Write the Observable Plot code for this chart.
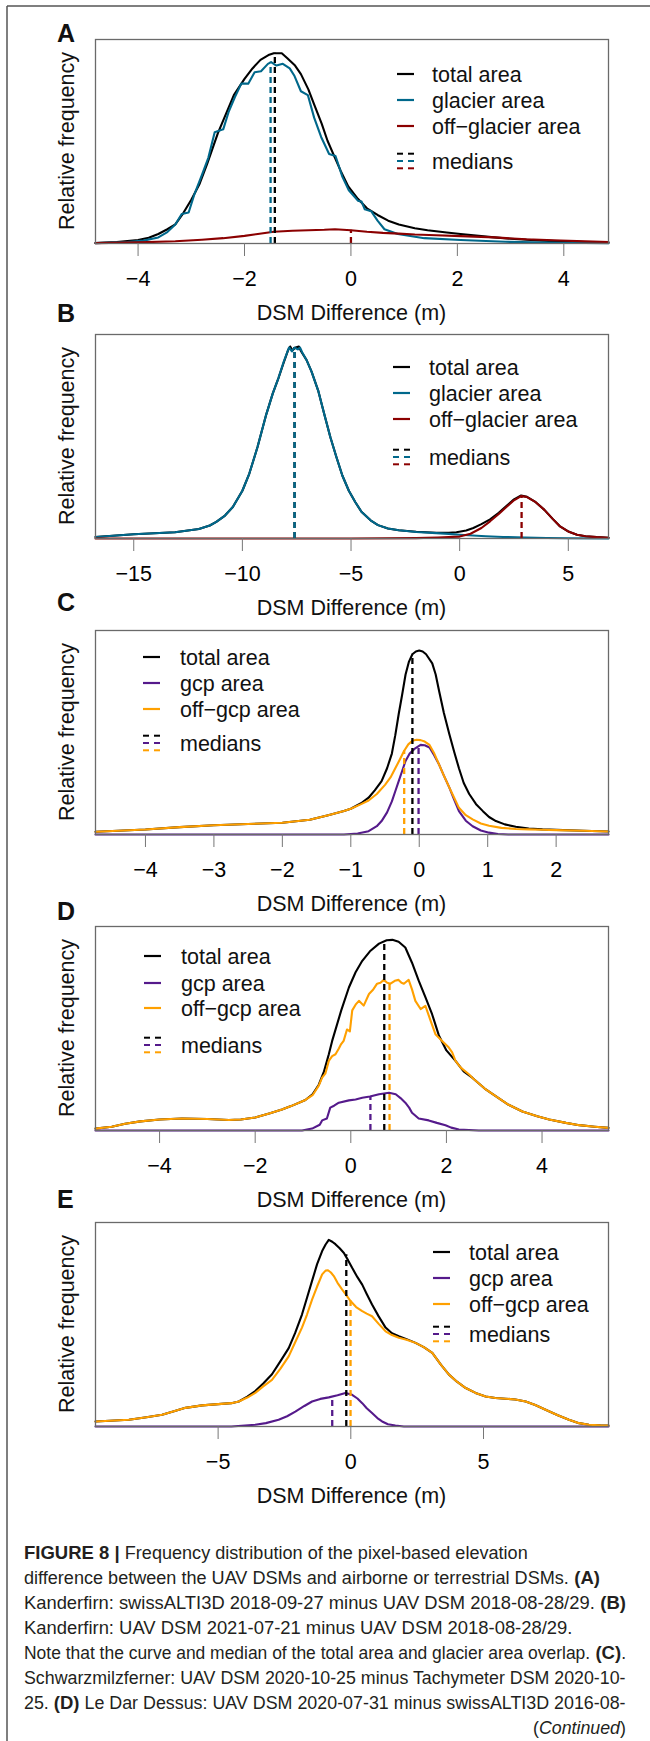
<!DOCTYPE html>
<html><head><meta charset="utf-8">
<script src="https://cdn.jsdelivr.net/npm/d3@7"></script>
<script src="https://cdn.jsdelivr.net/npm/@observablehq/plot@0.6"></script>
<style>
html,body{margin:0;padding:0;background:#fff;}
#page{position:relative;width:650px;height:1741px;overflow:hidden;background:#fff;font-family:"Liberation Sans",Arial,Helvetica,sans-serif;}
#page svg.plotsvg{position:absolute;left:0;}
#overlay{position:absolute;left:0;top:0;z-index:3;pointer-events:none;}
#overlay text.cap{white-space:pre;}
</style></head>
<body><div id="page"></div>
<script>
// ---------------- DATA ----------------
const COLORS = {total:"#000000", glacier:"#00688B", offGlacier:"#8B0000", gcp:"#551A8B", offGcp:"#FFA000"};
const LEGEND_AB = ["total area","glacier area","off\u2212glacier area","medians"];
const LEGEND_CDE = ["total area","gcp area","off\u2212gcp area","medians"];

// Panel A
const A_ticks = [-4,-2,0,2,4];
const A_total = [[-4.8,0.003],[-4.4,0.008],[-4.0,0.018],[-3.8,0.03],[-3.62,0.05],[-3.45,0.075],[-3.3,0.1],[-3.15,0.16],[-3.0,0.23],[-2.85,0.31],[-2.7,0.42],[-2.5,0.58],[-2.35,0.68],[-2.2,0.78],[-2.0,0.865],[-1.85,0.92],[-1.7,0.965],[-1.55,0.99],[-1.45,1.0],[-1.3,1.0],[-1.2,0.975],[-1.05,0.935],[-0.94,0.89],[-0.8,0.81],[-0.69,0.73],[-0.55,0.63],[-0.44,0.54],[-0.3,0.45],[-0.19,0.38],[-0.05,0.3],[0.13,0.235],[0.3,0.185],[0.5,0.15],[0.7,0.12],[0.9,0.1],[1.2,0.08],[1.44,0.07],[1.8,0.058],[2.06,0.05],[2.4,0.04],[2.69,0.032],[3.0,0.025],[3.3,0.02],[3.6,0.015],[3.94,0.011],[4.4,0.007],[4.84,0.004]];
const A_glacier = [[-4.8,0.002],[-4.2,0.008],[-3.9,0.015],[-3.62,0.032],[-3.45,0.06],[-3.3,0.1],[-3.18,0.155],[-3.05,0.163],[-2.94,0.26],[-2.8,0.36],[-2.68,0.45],[-2.56,0.585],[-2.4,0.6],[-2.3,0.69],[-2.18,0.77],[-2.06,0.84],[-1.93,0.84],[-1.81,0.9],[-1.69,0.905],[-1.56,0.944],[-1.5,0.953],[-1.4,0.935],[-1.28,0.944],[-1.15,0.92],[-1.06,0.88],[-0.94,0.8],[-0.81,0.78],[-0.69,0.66],[-0.56,0.56],[-0.41,0.47],[-0.29,0.46],[-0.16,0.35],[-0.04,0.28],[0.13,0.225],[0.2,0.22],[0.26,0.18],[0.38,0.17],[0.5,0.12],[0.63,0.075],[0.88,0.05],[1.38,0.028],[2.06,0.018],[2.9,0.009],[3.94,0.004],[4.84,0.002]];
const A_offGlacier = [[-4.8,0.002],[-4.0,0.006],[-3.3,0.012],[-2.8,0.02],[-2.4,0.028],[-2.0,0.04],[-1.75,0.05],[-1.45,0.062],[-1.1,0.067],[-0.8,0.07],[-0.5,0.072],[-0.3,0.075],[0.0,0.07],[0.3,0.062],[0.6,0.056],[0.9,0.052],[1.2,0.047],[1.6,0.043],[2.06,0.039],[2.7,0.032],[3.3,0.022],[3.94,0.016],[4.4,0.011],[4.84,0.008]];
const A_medianX = [-1.43, -1.51, 0.0];
const A_medianTop = [1.0, 0.953, 0.07];

// Panel B
const B_ticks = [-15,-10,-5,0,5];
const B_total = [[-16.76,0.008],[-15,0.022],[-13.1,0.033],[-12,0.05],[-11.5,0.068],[-11.2,0.087],[-10.8,0.12],[-10.44,0.165],[-10.0,0.25],[-9.68,0.34],[-9.3,0.48],[-8.9,0.65],[-8.6,0.76],[-8.34,0.84],[-8.1,0.92],[-7.9,0.985],[-7.8,1.005],[-7.7,0.985],[-7.55,1.0],[-7.4,1.005],[-7.3,0.98],[-7.05,0.935],[-6.82,0.875],[-6.5,0.77],[-6.23,0.65],[-5.95,0.53],[-5.67,0.425],[-5.4,0.33],[-5.1,0.25],[-4.8,0.19],[-4.52,0.14],[-4.1,0.095],[-3.76,0.07],[-3.3,0.052],[-2.8,0.043],[-2.0,0.035],[-1.08,0.03],[-0.5,0.03],[-0.15,0.033],[0.3,0.042],[0.63,0.055],[1.0,0.075],[1.4,0.1],[1.8,0.135],[2.15,0.17],[2.5,0.205],[2.83,0.225],[3.1,0.218],[3.5,0.19],[3.9,0.15],[4.27,0.104],[4.6,0.065],[5.03,0.035],[5.4,0.02],[5.79,0.012],[6.3,0.007],[6.85,0.004]];
const B_glacier = [[-16.76,0.008],[-15,0.022],[-13.1,0.033],[-12,0.05],[-11.5,0.068],[-11.2,0.087],[-10.8,0.12],[-10.44,0.165],[-10.0,0.25],[-9.68,0.34],[-9.3,0.48],[-8.9,0.65],[-8.6,0.76],[-8.34,0.84],[-8.1,0.925],[-7.95,0.97],[-7.85,1.0],[-7.72,0.98],[-7.6,1.0],[-7.45,0.99],[-7.35,1.0],[-7.25,0.975],[-7.05,0.935],[-6.82,0.875],[-6.5,0.77],[-6.23,0.65],[-5.95,0.53],[-5.67,0.425],[-5.4,0.33],[-5.1,0.25],[-4.8,0.19],[-4.52,0.14],[-4.1,0.095],[-3.76,0.07],[-3.3,0.052],[-2.8,0.043],[-2.0,0.034],[-1.08,0.028],[-0.5,0.024],[0,0.02],[0.6,0.016],[1.2,0.012],[2,0.008],[3,0.005],[4,0.003],[5,0.001],[6.85,0]];
const B_offGlacier = [[-16.76,0],[-5,0],[-2,0.002],[-1,0.005],[0,0.01],[0.5,0.025],[1.0,0.055],[1.4,0.09],[1.8,0.128],[2.15,0.165],[2.5,0.2],[2.83,0.222],[3.1,0.217],[3.5,0.19],[3.9,0.15],[4.27,0.104],[4.6,0.065],[5.03,0.035],[5.4,0.02],[5.79,0.012],[6.3,0.007],[6.85,0.004]];
const B_medianX = [-7.6, -7.6, 2.85];
const B_medianTop = [1.0, 1.0, 0.222];

// Panel C
const C_ticks = [-4,-3,-2,-1,0,1,2];
const C_total = [[-4.73,0.015],[-4.4,0.02],[-4,0.027],[-3.5,0.04],[-3,0.05],[-2.5,0.057],[-2,0.064],[-1.6,0.08],[-1.33,0.105],[-1.1,0.128],[-1,0.14],[-0.85,0.17],[-0.74,0.2],[-0.65,0.24],[-0.55,0.29],[-0.47,0.36],[-0.4,0.44],[-0.35,0.54],[-0.3,0.655],[-0.25,0.76],[-0.2,0.87],[-0.15,0.94],[-0.1,0.98],[-0.05,0.995],[0,1.0],[0.05,0.995],[0.1,0.98],[0.19,0.93],[0.24,0.87],[0.29,0.78],[0.36,0.66],[0.44,0.545],[0.51,0.45],[0.58,0.36],[0.65,0.28],[0.73,0.22],[0.83,0.165],[0.93,0.127],[1.02,0.095],[1.12,0.073],[1.25,0.055],[1.41,0.042],[1.6,0.033],[1.8,0.028],[2.0,0.025],[2.4,0.02],[2.765,0.016]];
const C_gcp = [[-4.73,0],[-1.1,0],[-0.9,0.005],[-0.74,0.018],[-0.62,0.045],[-0.55,0.073],[-0.47,0.12],[-0.4,0.18],[-0.35,0.235],[-0.3,0.29],[-0.25,0.345],[-0.2,0.4],[-0.14,0.44],[-0.07,0.465],[0.02,0.487],[0.08,0.485],[0.15,0.473],[0.22,0.43],[0.29,0.38],[0.36,0.32],[0.44,0.255],[0.51,0.19],[0.58,0.127],[0.68,0.075],[0.78,0.045],[0.9,0.022],[1.02,0.01],[1.15,0.003],[1.3,0],[2.765,0]];
const C_offGcp = [[-4.73,0.015],[-4.4,0.02],[-4,0.027],[-3.5,0.04],[-3,0.05],[-2.5,0.057],[-2,0.064],[-1.6,0.08],[-1.33,0.105],[-1.1,0.128],[-1,0.14],[-0.85,0.165],[-0.74,0.185],[-0.62,0.22],[-0.5,0.27],[-0.42,0.31],[-0.35,0.36],[-0.28,0.41],[-0.22,0.455],[-0.16,0.49],[-0.1,0.51],[-0.04,0.515],[0.02,0.513],[0.08,0.505],[0.15,0.487],[0.22,0.44],[0.29,0.38],[0.36,0.32],[0.44,0.255],[0.51,0.2],[0.58,0.145],[0.68,0.105],[0.78,0.082],[0.9,0.06],[1.02,0.048],[1.2,0.036],[1.41,0.03],[1.6,0.028],[1.8,0.026],[2.0,0.024],[2.4,0.02],[2.765,0.016]];
const C_medianX = [-0.1, -0.01, -0.22];
const C_medianTop = [0.98, 0.487, 0.455];

// Panel D
const D_ticks = [-4,-2,0,2,4];
const D_total = [[-5.34,0.01],[-5.0,0.02],[-4.72,0.035],[-4.4,0.048],[-4.0,0.058],[-3.53,0.063],[-3.0,0.06],[-2.55,0.055],[-2.3,0.058],[-2.0,0.068],[-1.69,0.09],[-1.44,0.11],[-1.25,0.128],[-0.95,0.16],[-0.8,0.19],[-0.67,0.24],[-0.56,0.31],[-0.46,0.4],[-0.39,0.47],[-0.2,0.63],[-0.04,0.75],[0.1,0.83],[0.24,0.89],[0.4,0.94],[0.59,0.98],[0.75,0.998],[0.87,1.0],[1.0,0.99],[1.14,0.96],[1.28,0.88],[1.42,0.786],[1.56,0.7],[1.7,0.61],[1.84,0.5],[2.0,0.42],[2.19,0.365],[2.36,0.31],[2.54,0.277],[2.8,0.22],[3.03,0.18],[3.3,0.135],[3.59,0.1],[3.9,0.075],[4.15,0.058],[4.5,0.04],[4.78,0.028],[5.1,0.02],[5.39,0.014]];
const D_gcp = [[-5.34,0],[-1.02,0],[-0.81,0.01],[-0.65,0.03],[-0.6,0.053],[-0.5,0.063],[-0.43,0.12],[-0.35,0.13],[-0.25,0.146],[-0.04,0.158],[0.1,0.163],[0.24,0.172],[0.4,0.178],[0.59,0.19],[0.8,0.198],[0.94,0.19],[1.04,0.17],[1.14,0.146],[1.22,0.12],[1.28,0.093],[1.42,0.063],[1.63,0.053],[1.8,0.04],[1.98,0.028],[2.1,0.015],[2.26,0.005],[2.68,0],[5.39,0]];
const D_offGcp = [[-5.34,0.01],[-5.0,0.02],[-4.72,0.035],[-4.4,0.048],[-4.0,0.058],[-3.53,0.063],[-3.0,0.06],[-2.55,0.055],[-2.3,0.058],[-2.0,0.068],[-1.69,0.09],[-1.44,0.11],[-1.25,0.128],[-0.95,0.16],[-0.8,0.185],[-0.67,0.235],[-0.6,0.277],[-0.53,0.3],[-0.46,0.365],[-0.39,0.39],[-0.32,0.4],[-0.25,0.43],[-0.21,0.45],[-0.15,0.47],[-0.08,0.53],[-0.02,0.52],[0.03,0.63],[0.1,0.66],[0.17,0.68],[0.27,0.655],[0.38,0.716],[0.47,0.74],[0.55,0.77],[0.62,0.775],[0.69,0.79],[0.76,0.775],[0.83,0.77],[0.92,0.785],[1.0,0.79],[1.06,0.775],[1.11,0.77],[1.16,0.78],[1.21,0.79],[1.28,0.74],[1.35,0.68],[1.46,0.637],[1.56,0.654],[1.67,0.575],[1.77,0.505],[1.91,0.47],[2.05,0.435],[2.12,0.41],[2.19,0.365],[2.3,0.33],[2.47,0.295],[2.54,0.277],[2.8,0.22],[3.03,0.18],[3.3,0.135],[3.59,0.1],[3.9,0.075],[4.15,0.058],[4.5,0.04],[4.78,0.028],[5.1,0.02],[5.39,0.014]];
const D_medianX = [0.70, 0.41, 0.81];
const D_medianTop = [0.995, 0.178, 0.775];

// Panel E
const E_ticks = [-5,0,5];
const E_total = [[-9.62,0.027],[-8.9,0.032],[-8.36,0.036],[-7.7,0.05],[-7.11,0.063],[-6.6,0.085],[-6.23,0.1],[-5.6,0.113],[-5.0,0.12],[-4.5,0.125],[-4.22,0.134],[-3.9,0.16],[-3.6,0.19],[-3.3,0.23],[-2.97,0.28],[-2.65,0.35],[-2.34,0.42],[-2.1,0.5],[-1.84,0.6],[-1.65,0.69],[-1.46,0.78],[-1.27,0.87],[-1.08,0.94],[-0.95,0.975],[-0.83,1.0],[-0.7,0.99],[-0.58,0.977],[-0.42,0.955],[-0.26,0.93],[-0.1,0.89],[0.05,0.85],[0.25,0.8],[0.43,0.76],[0.6,0.71],[0.8,0.654],[1.05,0.59],[1.31,0.53],[1.55,0.5],[1.81,0.484],[2.1,0.468],[2.44,0.448],[2.75,0.425],[3.07,0.394],[3.4,0.33],[3.7,0.278],[4.0,0.24],[4.33,0.206],[4.7,0.18],[5.08,0.161],[5.45,0.153],[5.83,0.149],[6.2,0.145],[6.59,0.134],[6.95,0.115],[7.34,0.09],[7.8,0.06],[8.22,0.036],[8.6,0.018],[8.97,0.009],[9.4,0.006],[9.71,0.005]];
const E_gcp = [[-9.62,0],[-4.5,0],[-3.6,0.009],[-3.2,0.018],[-2.72,0.036],[-2.4,0.055],[-2.09,0.08],[-1.75,0.11],[-1.46,0.134],[-1.15,0.148],[-0.83,0.156],[-0.5,0.167],[-0.2,0.18],[0.05,0.17],[0.25,0.15],[0.43,0.125],[0.6,0.098],[0.8,0.072],[1.0,0.045],[1.18,0.027],[1.4,0.012],[1.68,0.005],[2.0,0],[9.71,0]];
const E_offGcp = [[-9.62,0.027],[-8.9,0.032],[-8.36,0.036],[-7.7,0.05],[-7.11,0.063],[-6.6,0.085],[-6.23,0.1],[-5.6,0.113],[-5.0,0.12],[-4.5,0.125],[-4.22,0.134],[-3.9,0.155],[-3.6,0.18],[-3.3,0.215],[-2.97,0.25],[-2.65,0.31],[-2.34,0.376],[-2.1,0.45],[-1.84,0.53],[-1.65,0.6],[-1.46,0.68],[-1.27,0.75],[-1.08,0.815],[-0.95,0.835],[-0.86,0.837],[-0.75,0.825],[-0.64,0.806],[-0.5,0.77],[-0.33,0.735],[-0.15,0.7],[-0.01,0.672],[0.2,0.64],[0.43,0.618],[0.6,0.605],[0.8,0.591],[1.05,0.55],[1.31,0.51],[1.55,0.49],[1.81,0.475],[2.1,0.465],[2.44,0.448],[2.75,0.425],[3.07,0.394],[3.4,0.33],[3.7,0.278],[4.0,0.24],[4.33,0.206],[4.7,0.18],[5.08,0.161],[5.45,0.153],[5.83,0.149],[6.2,0.145],[6.59,0.134],[6.95,0.115],[7.34,0.09],[7.8,0.06],[8.22,0.036],[8.6,0.018],[8.97,0.009],[9.4,0.006],[9.71,0.005]];
const E_medianX = [-0.17, -0.70, -0.01];
const E_medianTop = [0.92, 0.16, 0.672];

// Caption
const CAPTION = [
  [{b:"FIGURE 8 | "},"Frequency distribution of the pixel-based elevation"],
  ["difference between the UAV DSMs and airborne or terrestrial DSMs. ",{b:"(A)"}],
  ["Kanderfirn: swissALTI3D 2018-09-27 minus UAV DSM 2018-08-28/29. ",{b:"(B)"}],
  ["Kanderfirn: UAV DSM 2021-07-21 minus UAV DSM 2018-08-28/29."],
  ["Note that the curve and median of the total area and glacier area overlap. ",{b:"(C)"},"."],
  ["Schwarzmilzferner: UAV DSM 2020-10-25 minus Tachymeter DSM 2020-10-"],
  ["25. ",{b:"(D)"}," Le Dar Dessus: UAV DSM 2020-07-31 minus swissALTI3D 2016-08-"]
];
// right end of each caption line in the picture
const CAPTION_END = [528, 600, 626, 573, 626, 626, 626];

// ---------------- LAYOUT ----------------
const PANELS = [
  {key:"A", top:39, xDomain:[-4.8,4.84], yMax:1.072, ticks:A_ticks, legendNames:LEGEND_AB,
   series:[[A_total,COLORS.total],[A_glacier,COLORS.glacier],[A_offGlacier,COLORS.offGlacier]],
   medX:A_medianX, medTop:A_medianTop, medColors:[COLORS.total,COLORS.glacier,COLORS.offGlacier],
   leg:{x:397, tx:432, rows:[74,100,126,161]}, letterY:42},
  {key:"B", top:334, xDomain:[-16.76,6.85], yMax:1.068, ticks:B_ticks, legendNames:LEGEND_AB,
   series:[[B_total,COLORS.total],[B_glacier,COLORS.glacier],[B_offGlacier,COLORS.offGlacier]],
   medX:B_medianX, medTop:B_medianTop, medColors:[COLORS.total,COLORS.glacier,COLORS.offGlacier],
   leg:{x:393, tx:429, rows:[367,393,419,457]}, letterY:322},
  {key:"C", top:630, xDomain:[-4.73,2.765], yMax:1.109, ticks:C_ticks, legendNames:LEGEND_CDE,
   series:[[C_total,COLORS.total],[C_gcp,COLORS.gcp],[C_offGcp,COLORS.offGcp]],
   medX:C_medianX, medTop:C_medianTop, medColors:[COLORS.total,COLORS.gcp,COLORS.offGcp],
   leg:{x:143, tx:180, rows:[657,683,709,743]}, letterY:611},
  {key:"D", top:926, xDomain:[-5.34,5.39], yMax:1.07, ticks:D_ticks, legendNames:LEGEND_CDE,
   series:[[D_total,COLORS.total],[D_gcp,COLORS.gcp],[D_offGcp,COLORS.offGcp]],
   medX:D_medianX, medTop:D_medianTop, medColors:[COLORS.total,COLORS.gcp,COLORS.offGcp],
   leg:{x:144, tx:181, rows:[956,983,1008,1045]}, letterY:920},
  {key:"E", top:1222, xDomain:[-9.62,9.71], yMax:1.093, ticks:E_ticks, legendNames:LEGEND_CDE,
   series:[[E_total,COLORS.total],[E_gcp,COLORS.gcp],[E_offGcp,COLORS.offGcp]],
   medX:E_medianX, medTop:E_medianTop, medColors:[COLORS.total,COLORS.gcp,COLORS.offGcp],
   leg:{x:433, tx:469, rows:[1252,1278,1304,1334]}, letterY:1208}
];

const FONT = '"Liberation Sans", Arial, Helvetica, sans-serif';
const FS = 21.5;
const W = 650, ML = 95, MR = 42, MT = 38, BOX_H = 204, SVG_H = 340;
const fmt = d => (d < 0 ? "\u2212" : "") + Math.abs(d);

const page = document.getElementById("page");

PANELS.forEach(p => {
  const marks = [];
  p.series.forEach(([data, color]) => {
    marks.push(Plot.line(data, {x: d => d[0], y: d => d[1], stroke: color, strokeWidth: 2.1, strokeLinejoin: "round"}));
  });
  p.medX.forEach((mx, i) => {
    marks.push(Plot.ruleX([mx], {x: d => d, y1: 0, y2: p.medTop[i], stroke: p.medColors[i], strokeWidth: 2.3, strokeDasharray: "6,4"}));
  });
  marks.push(Plot.frame({stroke: "#6a6a6a", strokeWidth: 1.3}));
  marks.push(Plot.axisX({ticks: p.ticks, tickFormat: fmt, tickSize: 13, tickPadding: 14, label: null,
    stroke: "#777", fill: "#000", fontSize: FS}));
  const svg = Plot.plot({
    width: W, height: SVG_H,
    marginLeft: ML, marginRight: MR, marginTop: MT, marginBottom: SVG_H - MT - BOX_H,
    x: {domain: p.xDomain},
    y: {domain: [0, p.yMax], axis: null},
    style: {background: "transparent", fontFamily: FONT, fontSize: FS + "px", color: "#000", overflow: "visible"},
    marks
  });
  svg.classList.add("plotsvg");
  svg.style.top = (p.top - MT) + "px";
  page.appendChild(svg);
});

// ---------------- OVERLAY (frame, letters, axis titles, legends, caption) ----------------
const ov = d3.select(page).append("svg").attr("id","overlay").attr("width", W).attr("height", 1741)
  .style("font-family", FONT);
ov.append("line").attr("x1",7).attr("y1",6).attr("x2",650).attr("y2",6).attr("stroke","#555").attr("stroke-width",1.5);
ov.append("line").attr("x1",7).attr("y1",6).attr("x2",7).attr("y2",1741).attr("stroke","#555").attr("stroke-width",1.5);

const boxCX = ML + (W - ML - MR) / 2;
PANELS.forEach(p => {
  const bottom = p.top + BOX_H;
  ov.append("text").attr("x", 57).attr("y", p.letterY).attr("font-size", 25).attr("font-weight","bold").attr("fill","#111").text(p.key);
  ov.append("text").attr("transform", `translate(74,${p.top + BOX_H/2}) rotate(-90)`).attr("text-anchor","middle")
    .attr("font-size", FS).attr("fill","#111").text("Relative frequency");
  ov.append("text").attr("x", boxCX).attr("y", bottom + 77).attr("text-anchor","middle")
    .attr("font-size", FS).attr("fill","#111").text("DSM Difference (m)");
  const g = ov.append("g");
  const L = p.leg;
  p.legendNames.forEach((name, i) => {
    const cy = L.rows[i];
    g.append("text").attr("x", L.tx).attr("y", cy + 7.7).attr("font-size", FS).attr("fill","#111").text(name);
    if (i < 3) {
      g.append("line").attr("x1", L.x).attr("x2", L.x + 17).attr("y1", cy).attr("y2", cy)
        .attr("stroke", p.medColors[i]).attr("stroke-width", 2.2);
    } else {
      p.medColors.forEach((c, j) => {
        const yy = cy + (j - 1) * 7.3;
        [[0,6],[11,17]].forEach(([a,b]) => {
          g.append("line").attr("x1", L.x + a).attr("x2", L.x + b).attr("y1", yy).attr("y2", yy)
            .attr("stroke", c).attr("stroke-width", 2);
        });
      });
    }
  });
});

// caption: bold pieces at natural width, regular pieces condensed so each line ends where it does in the picture
const CAP_X = 24, CAP_BASE = 1559, CAP_LH = 25, CAP_FS = 18.5;
const capItems = CAPTION.map((segs, i) => segs.map(s => {
  const bold = typeof s !== "string";
  const t = ov.append("text").attr("class","cap").attr("font-size", CAP_FS).attr("fill", "#231f20")
    .attr("font-weight", bold ? "bold" : "normal").text(bold ? s.b : s);
  return {t, bold};
}));
const ct = ov.append("text").attr("class","cap").attr("font-size", CAP_FS).attr("fill", "#231f20");
ct.append("tspan").text("(");
ct.append("tspan").attr("font-style", "italic").text("Continued");
ct.append("tspan").text(")");

function layoutCaption() {
  capItems.forEach((items, i) => {
    const y = CAP_BASE + i * CAP_LH;
    items.forEach(d => { d.t.attr("transform", null); d.w = d.t.node().getComputedTextLength(); });
    const B = d3.sum(items.filter(d => d.bold), d => d.w);
    const R = d3.sum(items.filter(d => !d.bold), d => d.w);
    const s = R > 0 ? (CAPTION_END[i] - CAP_X - B) / R : 1;
    let x = CAP_X;
    items.forEach(d => {
      const k = d.bold ? 1 : s;
      d.t.attr("transform", `translate(${x},${y}) scale(${k},1)`);
      x += d.w * k;
    });
  });
  ct.attr("transform", null);
  const w = ct.node().getComputedTextLength();
  const yC = CAP_BASE + CAPTION.length * CAP_LH;
  ct.attr("transform", `translate(${626 - 93},${yC}) scale(${93 / w},1)`);
}
layoutCaption();
if (document.fonts) document.fonts.ready.then(layoutCaption);
</script>
</body></html>
